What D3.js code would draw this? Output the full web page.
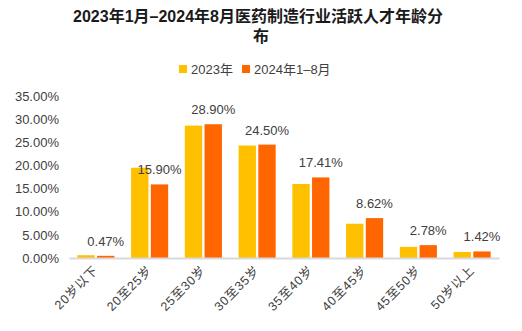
<!DOCTYPE html>
<html>
<head>
<meta charset="utf-8">
<script src="https://cdn.jsdelivr.net/npm/d3@7"></script>
<style>
  body { margin: 0; background: #fff; }
  text { font-family: "Liberation Sans", Arial, "Noto Sans CJK SC", sans-serif; }
</style>
</head>
<body>
<div id="chart"></div>
<script>
const categories = ['20岁以下', '20至25岁', '25至30岁', '30至35岁', '35至40岁', '40至45岁', '45至50岁', '50岁以上'];
const seriesNames = ['2023年', '2024年1–8月'];
const values2023 = [0.6, 19.5, 28.6, 24.3, 16.0, 7.4, 2.4, 1.3];
const values2024 = [0.47, 15.90, 28.90, 24.50, 17.41, 8.62, 2.78, 1.42];
const yTicks = [0, 5, 10, 15, 20, 25, 30, 35];

const WIDTH = 522;
const HEIGHT = 331;
const COLORS = ['#FFC000', '#FF6600'];
const margin = { left: 69, right: 23, top: 96, bottom: 73 };

const svg = d3.select('#chart')
    .append('svg')
    .attr('width', WIDTH)
    .attr('height', HEIGHT);

// title
const title = svg.append('text')
    .attr('text-anchor', 'middle')
    .attr('font-size', 16)
    .attr('font-weight', 'bold')
    .attr('fill', '#1a1a1a');
title.append('tspan').attr('x', 258).attr('y', 22).text('2023年1月–2024年8月医药制造行业活跃人才年龄分');
title.append('tspan').attr('x', 261).attr('y', 42).text('布');

// legend
const legend = svg.append('g');
const legendX = [179, 242];
seriesNames.forEach((name, i) => {
    legend.append('rect')
        .attr('x', legendX[i])
        .attr('y', 65)
        .attr('width', 8)
        .attr('height', 8)
        .attr('fill', COLORS[i]);
    legend.append('text')
        .attr('x', legendX[i] + 12)
        .attr('y', 74)
        .attr('font-size', 13)
        .attr('fill', '#404040')
        .text(name);
});

const x0 = d3.scaleBand()
    .domain(categories)
    .range([margin.left, WIDTH - margin.right])
    .paddingInner(0.31)
    .paddingOuter(0.155);

const x1 = d3.scaleBand()
    .domain([0, 1])
    .range([0, x0.bandwidth()])
    .paddingInner(0.12);

const y = d3.scaleLinear()
    .domain([0, 35])
    .range([HEIGHT - margin.bottom, margin.top]);

// y axis labels
const yAxis = svg.append('g')
    .attr('transform', `translate(${margin.left},0)`)
    .call(d3.axisLeft(y).tickValues(yTicks).tickSize(0).tickPadding(10)
        .tickFormat(d => d.toFixed(2) + '%'));
yAxis.select('.domain').remove();
yAxis.selectAll('text')
    .attr('font-size', 13)
    .attr('fill', '#404040')
    .style('font-family', '"Liberation Sans", Arial, sans-serif');

// bars
const data = categories.map((c, i) => ({ cat: c, vals: [values2023[i], values2024[i]] }));
const groups = svg.selectAll('g.grp')
    .data(data)
    .enter()
    .append('g')
    .attr('class', 'grp')
    .attr('transform', d => `translate(${x0(d.cat)},0)`);

groups.selectAll('rect')
    .data(d => d.vals.map((v, i) => ({ v, i })))
    .enter()
    .append('rect')
    .attr('x', d => x1(d.i))
    .attr('y', d => y(d.v))
    .attr('width', x1.bandwidth())
    .attr('height', d => y(0) - y(d.v))
    .attr('fill', d => COLORS[d.i]);

// value labels above 2024 bars
groups.append('text')
    .attr('x', x1(1) + x1.bandwidth() / 2)
    .attr('y', d => y(d.vals[1]) - 10)
    .attr('text-anchor', 'middle')
    .attr('font-size', 13)
    .attr('fill', '#404040')
    .text(d => d.vals[1].toFixed(2) + '%');

// x axis baseline
const xAxis = svg.append('g')
    .attr('transform', `translate(0,${y(0)})`)
    .call(d3.axisBottom(x0).tickSize(0).tickPadding(0));
xAxis.select('.domain')
    .attr('stroke', '#d9d9d9')
    .attr('stroke-width', 2);
xAxis.selectAll('text')
    .attr('font-size', 12.5)
    .attr('fill', '#404040')
    .attr('text-anchor', 'end')
    .attr('dy', 0)
    .attr('letter-spacing', 0.8)
    .attr('transform', 'translate(3,13) rotate(-45)')
    .style('font-family', '"Liberation Sans", Arial, "Noto Sans CJK SC", sans-serif');
</script>
</body>
</html>
